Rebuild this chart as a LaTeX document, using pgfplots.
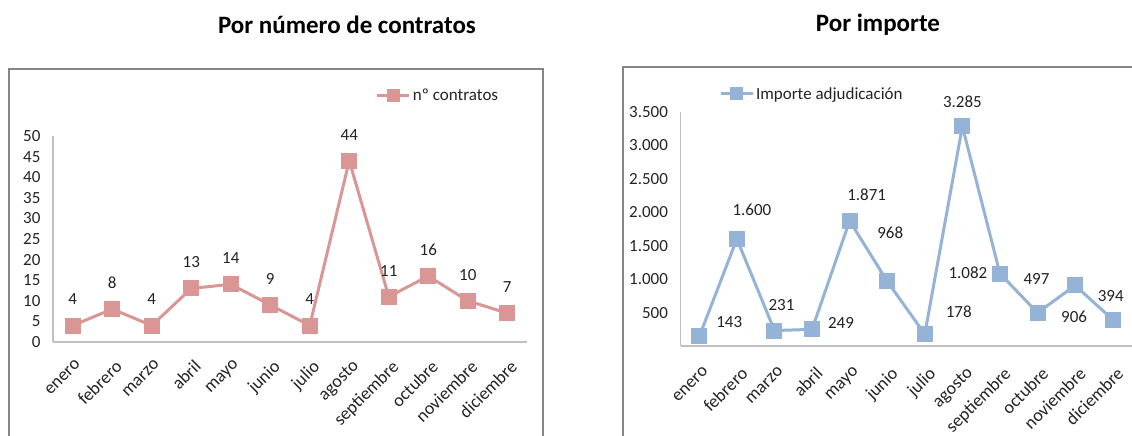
\documentclass[border=0pt]{standalone}
\usepackage{fontspec}
\setmainfont{Carlito}
\usepackage{pgfplots}
\usepackage{pgfplotstable}
\pgfplotsset{compat=1.18}
\definecolor{rosa}{RGB}{217,150,148}
\definecolor{azul}{RGB}{149,179,215}
\definecolor{ejes}{RGB}{191,191,191}
\definecolor{marco}{RGB}{134,134,134}
\definecolor{texto}{RGB}{35,35,35}

\pgfplotstableread{
x y
0 4
1 8
2 4
3 13
4 14
5 9
6 4
7 44
8 11
9 16
10 10
11 7
}\contratos

\pgfplotstableread{
x y dx dy
0 143 30 14
1 1600 15 29
2 231 7 26
3 249 29 6
4 1871 17 26
5 968 3 49
6 178 34 22
7 3285 0 25
8 1082 -32 1
9 497 -1 34
10 906 -1 -31
11 394 -2 24
}\importe

\pgfplotsset{
  comun/.style={
    scale only axis, clip=false,
    xmin=-0.5, xmax=11.5,
    xtick={0,...,11},
    xticklabels={enero,febrero,marzo,abril,mayo,junio,julio,agosto,septiembre,octubre,noviembre,diciembre},
    axis x line*=bottom, axis y line*=left,
    axis line style={ejes, line width=1.5pt},
    major tick length=0pt,
    tick style={draw=none},
    ticklabel style={font=\fontsize{17}{20}\selectfont, text=texto},
    yticklabel style={xshift=-9pt},
    /pgf/number format/assume math mode=true,
    /pgf/number format/1000 sep={.},
    legend style={draw=none, fill=none, font=\fontsize{17}{20}\selectfont, text=texto, inner sep=0pt, anchor=west},
    legend image code/.code={\draw[##1, mark repeat=2, mark phase=2, mark size=5pt] plot coordinates {(0pt,0pt) (16pt,0pt) (32pt,0pt)};},
    nodes near coords,
    every node near coord/.append style={font=\fontsize{17}{20}\selectfont, text=texto, anchor=center},
  }
}

\begin{document}
\begin{tikzpicture}
\path[use as bounding box] (0pt,0pt) rectangle (1132pt,436pt);
\draw[marco, line width=1.5pt] (9pt,0pt) -- (9pt,367pt) -- (543pt,367pt) -- (543pt,0pt);
\draw[marco, line width=1.5pt] (623pt,0pt) -- (623pt,369pt) -- (1132pt,369pt);
\node[font=\fontsize{25}{30}\selectfont\bfseries] at (347pt,411pt) {Por número de contratos};
\node[font=\fontsize{25}{30}\selectfont\bfseries] at (878pt,411pt) {Por importe};

\begin{axis}[comun,
  at={(53pt,94pt)}, anchor=south west,
  width=474pt, height=206pt,
  ymin=0, ymax=50, ytick={0,5,...,50},
  legend style={at={(axis description cs:0.681,1.199)}},
  every node near coord/.append style={yshift=26pt},
  xticklabel style={font=\fontsize{18}{20}\selectfont, xshift=2pt, yshift=-12pt, rotate=45, anchor=north east},
]
\addplot[rosa, line width=3pt, mark=square*, mark size=6.5pt, mark options={fill=rosa, draw=rosa}] table[x=x, y=y] {\contratos};
\addlegendentry{nº contratos}
\end{axis}

\begin{axis}[comun,
  at={(680.5pt,90pt)}, anchor=south west,
  width=451pt, height=234pt,
  ymin=0, ymax=3500, ytick={500,1000,...,3500},
  legend style={at={(axis description cs:0.085,1.077)}},
  visualization depends on={\thisrow{dx} \as \ddx},
  visualization depends on={\thisrow{dy} \as \ddy},
  every node near coord/.append style={xshift=\ddx pt, yshift=\ddy pt},
  xticklabel style={font=\fontsize{18}{20}\selectfont, xshift=3pt, yshift=-15pt, rotate=45, anchor=north east},
]
\addplot[azul, line width=3pt, mark=square*, mark size=6.5pt, mark options={fill=azul, draw=azul}] table[x=x, y=y] {\importe};
\addlegendentry{Importe adjudicación}
\end{axis}
\end{tikzpicture}
\end{document}
